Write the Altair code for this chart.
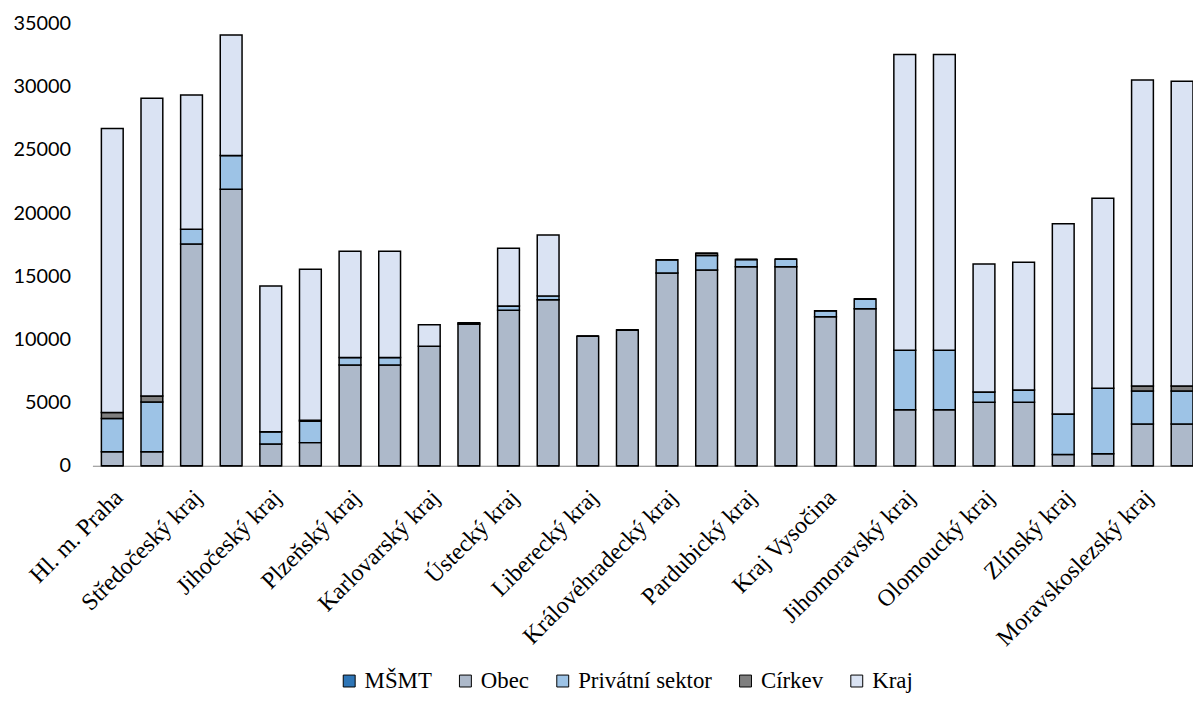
import altair as alt
import pandas as pd

regions = [
    "Hl. m. Praha", "Středočeský kraj", "Jihočeský kraj", "Plzeňský kraj",
    "Karlovarský kraj", "Ústecký kraj", "Liberecký kraj", "Královéhradecký kraj",
    "Pardubický kraj", "Kraj Vysočina", "Jihomoravský kraj", "Olomoucký kraj",
    "Zlínský kraj", "Moravskoslezský kraj",
]
series = ["MŠMT", "Obec", "Privátní sektor", "Církev", "Kraj"]
colors = ["#2e75b6", "#adb9ca", "#9dc3e6", "#7f7f7f", "#dae3f3"]

# two bars per region (28 bars), bottom to top: MŠMT, Obec, Privátní sektor, Církev, Kraj
msmt = [0, 0, 0, 0, 0, 0, 0, 0, 0, 0, 0, 0, 0, 0,
        0, 0, 0, 0, 0, 0, 0, 0, 0, 0, 0, 0, 0, 0]
obec = [1100, 1100, 17550, 21900, 1730, 1830, 7970, 7970, 9460, 11220,
        12320, 13140, 10250, 10750, 15260, 15500, 15760, 15750, 11800, 12430,
        4430, 4430, 5030, 5030, 890, 940, 3300, 3300]
privat = [2650, 3950, 1170, 2670, 970, 1700, 600, 600, 0, 0,
          320, 310, 0, 0, 1050, 1150, 580, 610, 470, 780,
          4720, 4720, 810, 970, 3200, 5190, 2620, 2620]
cirkev = [470, 480, 0, 0, 0, 80, 0, 0, 0, 100,
          0, 0, 0, 0, 0, 180, 0, 0, 0, 0,
          0, 0, 0, 0, 0, 0, 390, 390]
kraj = [22480, 23570, 10630, 9530, 11530, 11950, 8420, 8420, 1710, 0,
        4580, 4820, 0, 0, 0, 0, 0, 0, 0, 0,
        23410, 23410, 10130, 10120, 15080, 15050, 24230, 24130]

keys = []
for r in regions:
    keys.append(r)
    keys.append(r + " ·2")

rows = []
values_by_series = [msmt, obec, privat, cirkev, kraj]
for si, (s, vals) in enumerate(zip(series, values_by_series)):
    for k, v in zip(keys, vals):
        rows.append({"key": k, "series": s, "value": v, "order": si})
df = pd.DataFrame(rows)

chart = alt.Chart(df).mark_bar(stroke="black", strokeWidth=1.5).encode(
    x=alt.X(
        "key:N",
        sort=keys,
        scale=alt.Scale(paddingInner=0.45, paddingOuter=0.113, align=1),
        axis=alt.Axis(
            title=None,
            labelExpr="indexof(datum.value, '·2') >= 0 ? '' : datum.value",
            labelAngle=315,
            labelAlign="right",
            labelBaseline="middle",
            labelPadding=28,
            labelOffset=7,
            labelOverlap=False,
            labelLimit=400,
            ticks=False,
            domainColor="#888888",
            domainWidth=1.2,
            labelFont="Liberation Serif",
            labelFontSize=24,
            labelColor="black",
        ),
    ),
    y=alt.Y(
        "value:Q",
        stack="zero",
        scale=alt.Scale(domain=[0, 35000], nice=False),
        axis=alt.Axis(
            title=None,
            values=[0, 5000, 10000, 15000, 20000, 25000, 30000, 35000],
            format="d",
            domain=False,
            ticks=False,
            grid=False,
            labelFont="Lato",
            labelFontSize=20,
            labelPadding=22,
            labelColor="black",
        ),
    ),
    color=alt.Color(
        "series:N",
        scale=alt.Scale(domain=series, range=colors),
        legend=alt.Legend(
            title=None,
            orient="none",
            legendX=247,
            legendY=650,
            direction="horizontal",
        ),
    ),
    order=alt.Order("order:Q"),
).properties(
    width=1108,
    height=445,
    autosize=alt.AutoSizeParams(type="none"),
    padding={"left": 85, "top": 13.5, "right": 0, "bottom": 231.5},
).configure_view(
    stroke=None
).configure_legend(
    symbolType="square",
    symbolSize=144,
    symbolStrokeColor="black",
    symbolStrokeWidth=1,
    symbolOpacity=1,
    labelFont="Liberation Serif",
    labelFontSize=23,
    labelColor="black",
    labelOffset=4,
    columnPadding=22,
    labelLimit=300,
)

chart.save("out.html", embed_options={"renderer": "svg", "actions": False})
